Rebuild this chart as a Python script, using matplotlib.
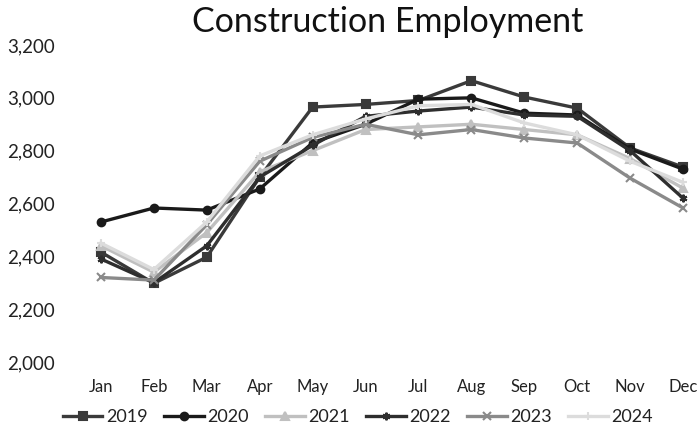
import matplotlib
matplotlib.use("Agg")
import matplotlib.pyplot as plt

months = ["Jan", "Feb", "Mar", "Apr", "May", "Jun", "Jul", "Aug", "Sep", "Oct", "Nov", "Dec"]
years = ["2019", "2020", "2021", "2022", "2023", "2024"]

emp_2019 = [2416, 2298, 2397, 2700, 2965, 2975, 2990, 3065, 3003, 2961, 2810, 2738]
emp_2020 = [2530, 2583, 2575, 2655, 2830, 2900, 2995, 3000, 2942, 2935, 2806, 2730]
emp_2021 = [2440, 2340, 2490, 2720, 2800, 2880, 2890, 2900, 2880, 2860, 2770, 2658]
emp_2022 = [2390, 2300, 2440, 2700, 2820, 2930, 2950, 2965, 2935, 2930, 2800, 2620]
emp_2023 = [2320, 2310, 2520, 2760, 2850, 2900, 2860, 2880, 2848, 2829, 2696, 2583]
emp_2024 = [2450, 2350, 2530, 2780, 2860, 2920, 2970, 2975, 2905, 2860, 2760, 2680]
series = [emp_2019, emp_2020, emp_2021, emp_2022, emp_2023, emp_2024]

colors = ["#3a3a3a", "#1a1a1a", "#c0c0c0", "#2e2e2e", "#8a8a8a", "#dcdcdc"]
markers = ["s", "o", "^", (6, 2, 0), "x", "+"]

plt.rcParams["font.family"] = ["Lato", "DejaVu Sans"]

fig = plt.figure(figsize=(6.99, 4.40), dpi=100)
ax = fig.add_axes([74.5 / 699, 1 - 362 / 440, 635 / 699, 317 / 440])

x = list(range(len(months)))
for yr, vals, c, m in zip(years, series, colors, markers):
    ax.plot(x, vals, color=c, lw=2.4, marker=m, ms=5.5, mew=1.5,
            mec=c, mfc=c, label=yr)

ax.set_xlim(-0.5, 11.5)
ax.set_ylim(2000, 3200)
ax.set_yticks(range(2000, 3201, 200))
ax.set_yticklabels([f"{v:,}" for v in range(2000, 3201, 200)])
ax.set_xticks(x)
ax.set_xticklabels(months)
for s in ax.spines.values():
    s.set_visible(False)
ax.tick_params(axis="y", length=0, pad=14, labelsize=13.5, colors="#222222")
ax.tick_params(axis="x", length=0, pad=12, labelsize=12, colors="#222222")

fig.text(388 / 699, 1 - 22 / 440, "Construction Employment", ha="center", va="center",
         fontsize=24.5, color="#111111")

fig.legend(loc="center", bbox_to_anchor=(358 / 699, 1 - 417 / 440), ncol=6,
           frameon=False, fontsize=13, handlelength=2.2, handletextpad=0.2,
           columnspacing=0.9, labelcolor="#222222")

fig.savefig("out.png", dpi=100)
